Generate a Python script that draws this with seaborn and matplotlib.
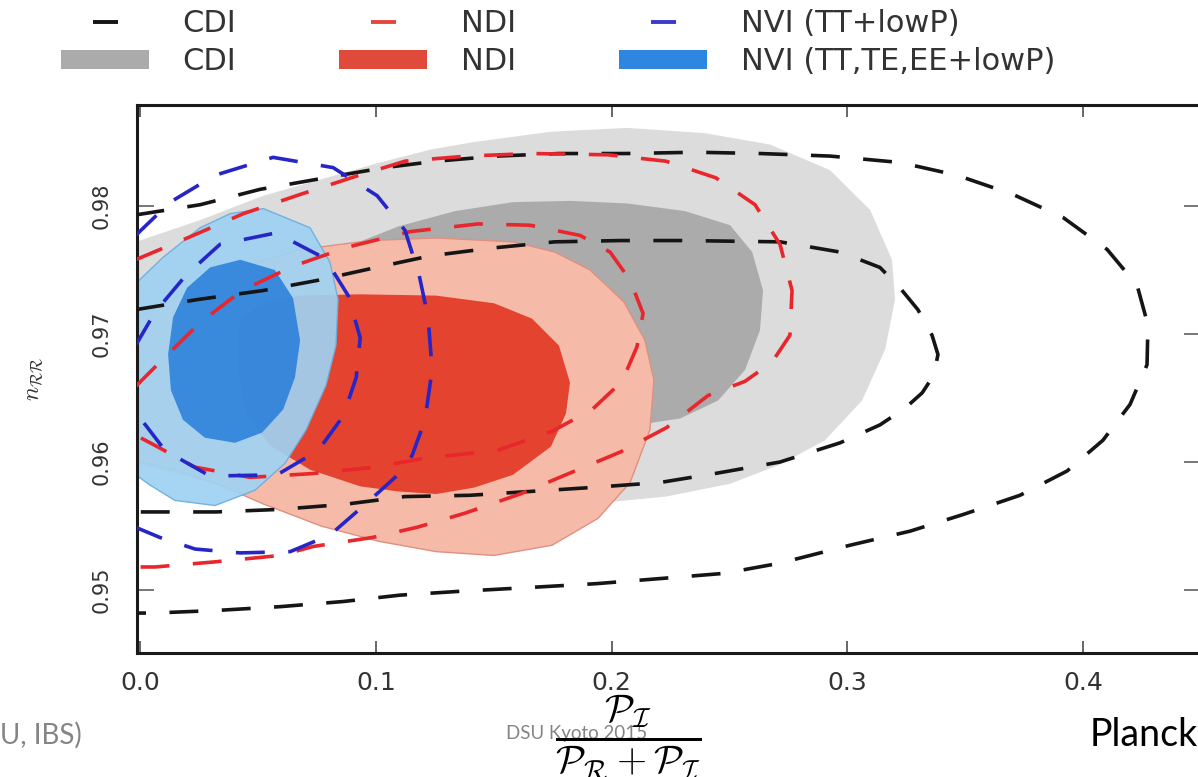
import matplotlib
matplotlib.use("Agg")
import matplotlib.pyplot as plt
import seaborn as sns
from matplotlib.lines import Line2D
from matplotlib.patches import Patch

# contour vertices: x = P_I/(P_R+P_I), y = n_RR
# CDI filled (TT,TE,EE+lowP)
cdi_fill_95_x = [-0.005, 0.0254, 0.0522, 0.0751, 0.1018, 0.1229, 0.1416, 0.1742, 0.2065, 0.2392,
                 0.2672, 0.2926, 0.3096, 0.3189, 0.3202, 0.3160, 0.3062, 0.2905, 0.2714, 0.2502,
                 0.2230, 0.1950, 0.1526, 0.1102, 0.0805, 0.0508, 0.0254, -0.005]
cdi_fill_95_y = [0.9770, 0.9789, 0.9808, 0.9820, 0.9834, 0.9844, 0.9850, 0.9858, 0.9861, 0.9857,
                 0.9848, 0.9828, 0.9797, 0.9758, 0.9727, 0.9688, 0.9648, 0.9617, 0.9598, 0.9583,
                 0.9573, 0.9568, 0.9565, 0.9564, 0.9566, 0.9574, 0.9586, 0.9600]
cdi_fill_68_x = [0.0848, 0.1094, 0.1335, 0.1581, 0.1823, 0.2065, 0.2311, 0.2502, 0.2596, 0.2642,
                 0.2629, 0.2566, 0.2451, 0.2290, 0.2035, 0.1696, 0.1314, 0.1017, 0.0763, 0.0678, 0.0721]
cdi_fill_68_y = [0.9766, 0.9784, 0.9796, 0.9803, 0.9804, 0.9802, 0.9796, 0.9785, 0.9764, 0.9734,
                 0.9703, 0.9672, 0.9648, 0.9634, 0.9627, 0.9623, 0.9625, 0.9633, 0.9656, 0.9695, 0.9734]

# NDI filled
ndi_fill_95_x = [-0.005, 0.0169, 0.0424, 0.0678, 0.0975, 0.1255, 0.1581, 0.1759, 0.1908, 0.2052,
                 0.2141, 0.2179, 0.2162, 0.2078, 0.1942, 0.1747, 0.1501, 0.1255, 0.1013, 0.0767,
                 0.0525, 0.0338, 0.0147, -0.005]
ndi_fill_95_y = [0.9709, 0.9730, 0.9752, 0.9766, 0.9773, 0.9775, 0.9772, 0.9764, 0.9750, 0.9725,
                 0.9695, 0.9664, 0.9625, 0.9584, 0.9556, 0.9535, 0.9527, 0.9530, 0.9538, 0.9550,
                 0.9567, 0.9582, 0.9594, 0.9602]
ndi_fill_68_x = [0.0424, 0.0508, 0.0678, 0.0933, 0.1255, 0.1501, 0.1662, 0.1776, 0.1823, 0.1806,
                 0.1742, 0.1581, 0.1416, 0.1255, 0.1094, 0.0933, 0.0720, 0.0550, 0.0444, 0.0415, 0.0415]
ndi_fill_68_y = [0.9711, 0.9723, 0.9730, 0.9731, 0.9730, 0.9724, 0.9712, 0.9691, 0.9662, 0.9638,
                 0.9612, 0.9590, 0.9580, 0.9575, 0.9577, 0.9581, 0.9594, 0.9613, 0.9639, 0.9672, 0.9695]

# NVI filled
nvi_fill_95_x = [-0.005, 0.0097, 0.0254, 0.0381, 0.0522, 0.0720, 0.0805, 0.0839, 0.0830, 0.0788,
                 0.0703, 0.0614, 0.0487, 0.0317, 0.0147, 0.0041, -0.005]
nvi_fill_95_y = [0.9734, 0.9760, 0.9783, 0.9794, 0.9798, 0.9783, 0.9756, 0.9727, 0.9691, 0.9660,
                 0.9625, 0.9599, 0.9578, 0.9566, 0.9570, 0.9582, 0.9594]
nvi_fill_68_x = [0.0424, 0.0571, 0.0648, 0.0678, 0.0656, 0.0606, 0.0517, 0.0402, 0.0274, 0.0181,
                 0.0130, 0.0118, 0.0139, 0.0198, 0.0296]
nvi_fill_68_y = [0.9758, 0.9750, 0.9728, 0.9695, 0.9666, 0.9641, 0.9623, 0.9615, 0.9619, 0.9633,
                 0.9656, 0.9684, 0.9713, 0.9736, 0.9752]

# CDI dashed (TT+lowP)
cdi_line_95_x = [-0.002, 0.0254, 0.0508, 0.0784, 0.1038, 0.1255, 0.1513, 0.1776, 0.2065, 0.2358,
                 0.2629, 0.2926, 0.3223, 0.3465, 0.3703, 0.3915, 0.4102, 0.4229, 0.4275, 0.4271,
                 0.4199, 0.4084, 0.3932, 0.3732, 0.3491, 0.3266, 0.3011, 0.2714, 0.2476, 0.2209,
                 0.1937, 0.1653, 0.1357, 0.1102, 0.0860, 0.0593, 0.0321, 0.0054, -0.002]
cdi_line_95_y = [0.9793, 0.9801, 0.9813, 0.9822, 0.9830, 0.9835, 0.9839, 0.9841, 0.9841, 0.9842,
                 0.9841, 0.9839, 0.9834, 0.9824, 0.9809, 0.9791, 0.9766, 0.9738, 0.9707, 0.9676,
                 0.9645, 0.9617, 0.9593, 0.9574, 0.9559, 0.9546, 0.9535, 0.9521, 0.9513, 0.9509,
                 0.9505, 0.9502, 0.9499, 0.9496, 0.9491, 0.9487, 0.9484, 0.9482, 0.9482]
cdi_line_68_x = [-0.002, 0.0246, 0.0522, 0.0755, 0.1001, 0.1229, 0.1484, 0.1759, 0.2035, 0.2311,
                 0.2714, 0.2969, 0.3138, 0.3223, 0.3299, 0.3359, 0.3384, 0.3367, 0.3317, 0.3244,
                 0.3138, 0.2969, 0.2714, 0.2438, 0.2205, 0.1908, 0.1653, 0.1398, 0.1123, 0.0869,
                 0.0593, 0.0321, -0.002]
cdi_line_68_y = [0.9719, 0.9727, 0.9734, 0.9742, 0.9752, 0.9761, 0.9767, 0.9772, 0.9773, 0.9773,
                 0.9772, 0.9764, 0.9752, 0.9736, 0.9719, 0.9699, 0.9684, 0.9668, 0.9654, 0.9642,
                 0.9629, 0.9615, 0.9600, 0.9591, 0.9584, 0.9580, 0.9577, 0.9574, 0.9573, 0.9567,
                 0.9563, 0.9561, 0.9561]

# NDI dashed
ndi_line_95_x = [-0.002, 0.0212, 0.0437, 0.0678, 0.0911, 0.1123, 0.1387, 0.1662, 0.1984, 0.2230,
                 0.2442, 0.2608, 0.2714, 0.2765, 0.2756, 0.2680, 0.2565, 0.2409, 0.2234, 0.2039,
                 0.1844, 0.1611, 0.1377, 0.1174, 0.0983, 0.0733, 0.0593, 0.0317, 0.0062, -0.002]
ndi_line_95_y = [0.9758, 0.9776, 0.9794, 0.9809, 0.9823, 0.9835, 0.9839, 0.9841, 0.9840, 0.9835,
                 0.9822, 0.9801, 0.9770, 0.9734, 0.9699, 0.9678, 0.9663, 0.9652, 0.9627, 0.9608,
                 0.9593, 0.9575, 0.9560, 0.9549, 0.9541, 0.9534, 0.9527, 0.9522, 0.9518, 0.9518]
ndi_line_68_x = [-0.002, 0.0105, 0.0254, 0.0432, 0.0649, 0.0882, 0.1145, 0.1433, 0.1653, 0.1866,
                 0.1993, 0.2078, 0.2133, 0.2107, 0.2044, 0.1917, 0.1747, 0.1514, 0.1208, 0.0996,
                 0.0733, 0.0465, 0.0232, 0.0062, -0.002]
ndi_line_68_y = [0.9659, 0.9682, 0.9709, 0.9734, 0.9753, 0.9768, 0.9780, 0.9786, 0.9785, 0.9777,
                 0.9764, 0.9742, 0.9716, 0.9690, 0.9663, 0.9641, 0.9624, 0.9609, 0.9603, 0.9596,
                 0.9591, 0.9588, 0.9596, 0.9613, 0.9621]

# NVI dashed (TT+lowP)
nvi_line_95_x = [-0.002, 0.0127, 0.0317, 0.0563, 0.0818, 0.1005, 0.1123, 0.1183, 0.1221, 0.1238,
                 0.1208, 0.1153, 0.1081, 0.0967, 0.0805, 0.0636, 0.0424, 0.0233, 0.0084, -0.002]
nvi_line_95_y = [0.9777, 0.9803, 0.9824, 0.9838, 0.9830, 0.9808, 0.9781, 0.9746, 0.9713, 0.9672,
                 0.9633, 0.9605, 0.9588, 0.9569, 0.9543, 0.9530, 0.9529, 0.9532, 0.9541, 0.9549]
nvi_line_68_x = [-0.002, 0.0062, 0.0194, 0.0338, 0.0576, 0.0784, 0.0882, 0.0933, 0.0916, 0.0861,
                 0.0755, 0.0580, 0.0296, 0.0105, -0.002]
nvi_line_68_y = [0.9691, 0.9717, 0.9746, 0.9770, 0.9779, 0.9759, 0.9730, 0.9697, 0.9666, 0.9636,
                 0.9609, 0.9590, 0.9589, 0.9609, 0.9639]

x_ticks = [0.0, 0.1, 0.2, 0.3, 0.4]
x_tick_labels = ["0.0", "0.1", "0.2", "0.3", "0.4"]
y_ticks = [0.95, 0.96, 0.97, 0.98]
y_tick_labels = ["0.95", "0.96", "0.97", "0.98"]

legend_labels = ["CDI", "CDI", "NDI", "NDI", "NVI (TT+lowP)", "NVI (TT,TE,EE+lowP)"]

sns.set_theme(style="white")
plt.rcParams["font.family"] = ["DejaVu Sans"]
plt.rcParams["mathtext.fontset"] = "cm"

gray_light, gray_dark = "#dcdcdc", "#ababab"
red_light, red_dark = "#f5bba8", "#e3432f"
blue_light, blue_dark = "#9fd2f2", "#2a7fda"
line_black, line_red, line_blue = "#151515", "#e8262b", "#2626c8"

fig = plt.figure(figsize=(11.98, 7.77), dpi=100)
ax = fig.add_axes([137 / 1198, 124 / 777, 1064 / 1198, 548 / 777])

# filled contours
ax.fill(cdi_fill_95_x, cdi_fill_95_y, color=gray_light, lw=0, zorder=1)
ax.fill(cdi_fill_68_x, cdi_fill_68_y, color=gray_dark, lw=0, zorder=1.1)
ax.fill(ndi_fill_95_x, ndi_fill_95_y, facecolor=red_light, edgecolor="#e09080", lw=1, zorder=1.2)
ax.fill(ndi_fill_68_x, ndi_fill_68_y, color=red_dark, lw=0, zorder=1.3)
ax.fill(nvi_fill_95_x, nvi_fill_95_y, facecolor=blue_light, edgecolor="#6aaee0", lw=1,
        alpha=0.92, zorder=1.4)
ax.fill(nvi_fill_68_x, nvi_fill_68_y, color=blue_dark, lw=0, alpha=0.88, zorder=1.5)

# dashed contours
dash = (0, (8.0, 6.5))
for xs, ys, col in [(cdi_line_95_x, cdi_line_95_y, line_black),
                    (cdi_line_68_x, cdi_line_68_y, line_black),
                    (ndi_line_95_x, ndi_line_95_y, line_red),
                    (ndi_line_68_x, ndi_line_68_y, line_red),
                    (nvi_line_95_x, nvi_line_95_y, line_blue),
                    (nvi_line_68_x, nvi_line_68_y, line_blue)]:
    sns.lineplot(x=xs, y=ys, sort=False, estimator=None, color=col, linewidth=2.6,
                 linestyle=dash, ax=ax, zorder=3)

ax.set_xlim(-0.0014, 0.45)
ax.set_ylim(0.94508, 0.98789)
ax.set_xticks(x_ticks)
ax.set_xticklabels(x_tick_labels, fontsize=18, color="#333333")
ax.set_yticks(y_ticks)
ax.set_yticklabels(y_tick_labels, fontsize=15, color="#333333", rotation=90, va="center")
ax.tick_params(axis="x", direction="in", length=8.5, width=1.4, color="#666666",
               top=True, bottom=True, pad=13)
ax.tick_params(axis="y", direction="in", length=12, width=1.4, color="#777777",
               left=True, right=True, pad=18)
for side in ["left", "bottom", "top", "right"]:
    ax.spines[side].set_color("#1a1a1a")
    ax.spines[side].set_linewidth(2.2)
ax.set_xlabel("")
ax.set_ylabel("")

fig.text(32 / 1198, 1 - 379 / 777, r"$n_{\mathcal{RR}}$", rotation=90, fontsize=17,
         color="#333333", ha="center", va="center")

# legend: dashed lines (TT+lowP) and filled (TT,TE,EE+lowP)
handles = [
    Line2D([], [], color=line_black, marker="_", markersize=18, mew=2.8, linestyle="none"),
    Patch(facecolor=gray_dark, edgecolor="none"),
    Line2D([], [], color="#e8453c", marker="_", markersize=18, mew=2.8, linestyle="none"),
    Patch(facecolor="#e04a3a", edgecolor="none"),
    Line2D([], [], color="#3a3acf", marker="_", markersize=18, mew=2.8, linestyle="none"),
    Patch(facecolor="#2f86e0", edgecolor="none"),
]
fig.legend(handles, legend_labels, ncol=3, loc="upper left",
           bbox_to_anchor=(61 / 1198, 1 - 9 / 777), frameon=False, borderpad=0,
           borderaxespad=0, fontsize=22, handlelength=2.88, handleheight=0.6,
           handletextpad=1.1, columnspacing=3.37, labelspacing=0.3, labelcolor="#333333")

# slide footer texts
fig.text(0, 1 - 735 / 777, "U, IBS)", fontsize=20, family="Lato", color="#858585",
         ha="left", va="center")
fig.text(577 / 1198, 1 - 733 / 777, "DSU Kyoto 2015", fontsize=13.5, family="Lato",
         color="#858585", ha="center", va="center")
fig.text(1090 / 1198, 1 - 735 / 777, "Planck", fontsize=27, family="Lato", color="black",
         ha="left", va="center")
fig.text(628 / 1198, 1 - 738 / 777,
         r"$\frac{\mathcal{P}_{\mathcal{I}}}{\mathcal{P}_{\mathcal{R}}+\mathcal{P}_{\mathcal{I}}}$",
         fontsize=40, color="black", ha="center", va="center")

fig.savefig("out.png", dpi=100, facecolor="white")
